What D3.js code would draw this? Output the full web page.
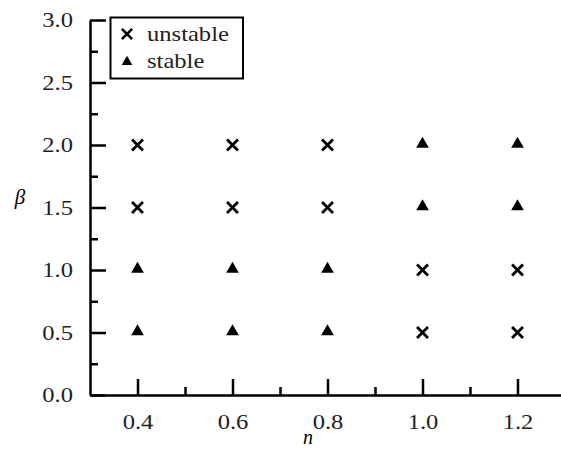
<!DOCTYPE html>
<html>
<head>
<meta charset="utf-8">
<script src="https://cdn.jsdelivr.net/npm/d3@7"></script>
<style>
  body { margin: 0; background: #fff; }
</style>
</head>
<body>
<svg id="chart" width="561" height="450"></svg>
<script>
// data
const nValues = [0.4, 0.6, 0.8, 1.0, 1.2]
const betaValues = [0.5, 1.0, 1.5, 2.0]
const unstablePts = [
    [0.4, 1.5], [0.4, 2.0], [0.6, 1.5], [0.6, 2.0], [0.8, 1.5], [0.8, 2.0],
    [1.0, 0.5], [1.0, 1.0], [1.2, 0.5], [1.2, 1.0]
]
const stablePts = [
    [0.4, 0.5], [0.4, 1.0], [0.6, 0.5], [0.6, 1.0], [0.8, 0.5], [0.8, 1.0],
    [1.0, 1.5], [1.0, 2.0], [1.2, 1.5], [1.2, 2.0]
]
const xTicks = [0.4, 0.6, 0.8, 1.0, 1.2]
const xMinor = [0.5, 0.7, 0.9, 1.1, 1.3]
const yTicks = [0.0, 0.5, 1.0, 1.5, 2.0, 2.5, 3.0]
const yMinor = [0.25, 0.75, 1.25, 1.75, 2.25, 2.75]
const legendItems = ['unstable', 'stable']

const serif = 'Liberation Serif, DejaVu Serif, serif'
const svg = d3.select('#chart')

const x = d3.scaleLinear().domain([0.3, 1.3]).range([90, 565])
const y = d3.scaleLinear().domain([0, 3]).range([395, 20])

// minor ticks first so the axis line sits on top
svg.append('g')
    .attr('transform', 'translate(0,395)')
    .call(d3.axisBottom(x).tickValues(xMinor).tickSize(-8).tickFormat(''))
    .call(g => g.select('.domain').remove())
    .selectAll('line').attr('stroke', '#000').attr('stroke-width', 2.5)

svg.append('g')
    .attr('transform', 'translate(90,0)')
    .call(d3.axisLeft(y).tickValues(yMinor).tickSize(-8).tickFormat(''))
    .call(g => g.select('.domain').remove())
    .selectAll('line').attr('stroke', '#000').attr('stroke-width', 2.5)

const xAxis = svg.append('g')
    .attr('transform', 'translate(0,395)')
    .call(d3.axisBottom(x).tickValues(xTicks).tickSize(-16).tickSizeOuter(0)
        .tickPadding(19).tickFormat(d3.format('.1f')))
xAxis.attr('font-family', serif)
xAxis.select('.domain').attr('stroke', '#000').attr('stroke-width', 2.5)
xAxis.selectAll('line').attr('stroke', '#000').attr('stroke-width', 2.5)
xAxis.selectAll('text').attr('font-size', 21).attr('fill', '#222')

const yAxis = svg.append('g')
    .attr('transform', 'translate(90,0)')
    .call(d3.axisLeft(y).tickValues(yTicks).tickSize(-16).tickSizeOuter(0)
        .tickPadding(17).tickFormat(d3.format('.1f')))
yAxis.attr('font-family', serif)
yAxis.select('.domain').attr('stroke', '#000').attr('stroke-width', 2.5)
yAxis.selectAll('line').attr('stroke', '#000').attr('stroke-width', 2.5)
yAxis.selectAll('text').attr('font-size', 21).attr('fill', '#222')

// axis titles
svg.append('text')
    .attr('x', 308).attr('y', 444)
    .attr('text-anchor', 'middle')
    .attr('font-family', serif)
    .attr('font-size', 20).attr('font-style', 'italic')
    .text('n')
svg.append('text')
    .attr('x', 20).attr('y', 204)
    .attr('text-anchor', 'middle')
    .attr('font-family', serif)
    .attr('font-size', 21).attr('font-style', 'italic')
    .text('β')

// markers
const cross = d3.symbol().type(d3.symbolX).size(80)
const tri = d3.symbol().type(d3.symbolTriangle).size(70)

svg.append('g').selectAll('path')
    .data(unstablePts)
    .enter()
    .append('path')
    .attr('d', cross)
    .attr('transform', d => 'translate(' + x(d[0]) + ',' + y(d[1]) + ')')
    .attr('fill', 'none')
    .attr('stroke', '#000')
    .attr('stroke-width', 2.8)

svg.append('g').selectAll('path')
    .data(stablePts)
    .enter()
    .append('path')
    .attr('d', tri)
    .attr('transform', d => 'translate(' + x(d[0]) + ',' + (y(d[1]) - 1) + ')')
    .attr('fill', '#000')

// legend
const legend = svg.append('g')
legend.append('rect')
    .attr('x', 110.5).attr('y', 17.5)
    .attr('width', 132.5).attr('height', 61)
    .attr('fill', '#fff').attr('stroke', '#000').attr('stroke-width', 2)

legendItems.forEach((label, i) => {
    const cy = 34 + i * 27
    legend.append('path')
        .attr('d', i === 0 ? d3.symbol().type(d3.symbolX).size(70)() : d3.symbol().type(d3.symbolTriangle).size(50)())
        .attr('transform', 'translate(127,' + (i === 0 ? cy : cy + 1) + ')')
        .attr('fill', i === 0 ? 'none' : '#000')
        .attr('stroke', i === 0 ? '#000' : 'none')
        .attr('stroke-width', 2.6)
    legend.append('text')
        .attr('x', 147).attr('y', cy + 7)
        .attr('font-family', serif)
        .attr('font-size', 21).attr('fill', '#222')
        .text(label)
})

// the reference text is set a bit wider than plain Times
svg.selectAll('text').each(function() {
    const w = this.getComputedTextLength()
    if (w > 0 && this.textContent.length > 1) {
        d3.select(this)
            .attr('textLength', w * 1.17)
            .attr('lengthAdjust', 'spacingAndGlyphs')
    }
})
</script>
</body>
</html>
